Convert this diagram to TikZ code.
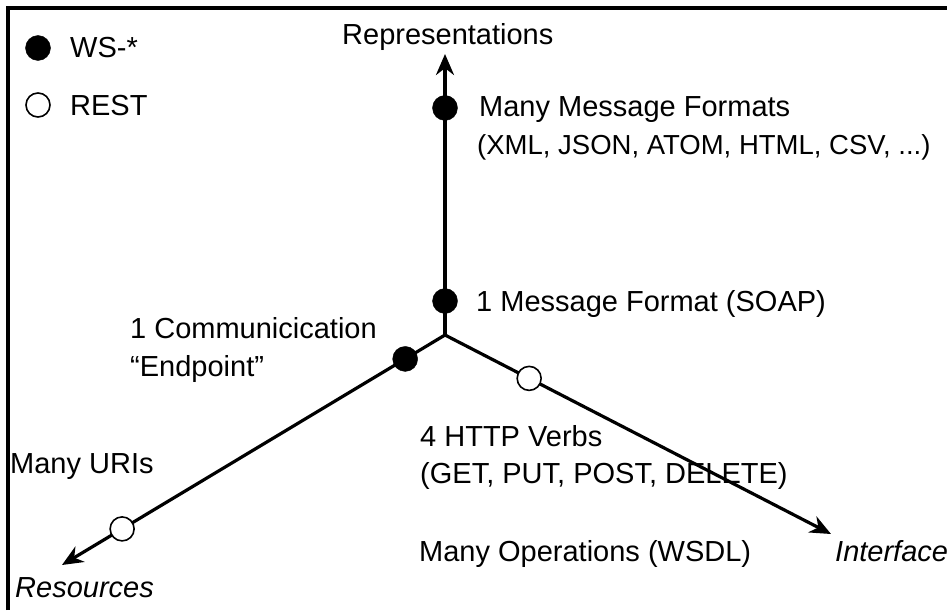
\documentclass[tikz,border=0pt]{standalone}
\usepackage{fontspec}
\setmainfont{Liberation Sans}
\usetikzlibrary{arrows.meta}

\tikzset{
  ws/.style={circle,draw,fill=black,inner sep=0pt,minimum size=25pt},
  rest/.style={circle,draw,line width=1.6pt,fill=white,inner sep=0pt,minimum size=24pt},
  lbl/.style={anchor=base west,inner sep=0pt,font=\fontsize{29}{34}\selectfont},
  ax/.style={line width=3.2pt,-{Stealth[length=21pt,width=18pt]}}
}

\begin{document}
\begin{tikzpicture}[x=1pt,y=-1pt]
\useasboundingbox(0,0)rectangle(947,610);
\draw[line width=3.5pt](8,610)|-(947,8);
% legend
\node[ws](wsdot) at (38,48){};
\node[rest](restdot) at (38,105){};
\node[lbl](wstxt) at (70,58){WS-*};
\node[lbl](resttxt) at (70,115){REST};
% the three axes
\coordinate(o) at (445,335);
\coordinate(rep) at (445,54);
\coordinate(res) at (62,565);
\coordinate(int) at (831,534);
\draw[ax](o)--(rep);
\draw[ax](o)--(res);
\draw[ax](o)--(int);
\path(o)--(rep)node[ws,pos=.808](many){}node[ws,pos=.121](soap){};
\path(o)--(res)node[ws,pos=.104](endp){}node[rest,pos=.843](uris){};
\path(o)--(int)node[rest,pos=.218](verbs){};
% axis names
\node[lbl](reptxt) at (342,45){Representations};
\node[lbl](restxt) at (15,597){\itshape Resources};
\node[lbl](inttxt) at (835,561){\itshape Interface};
% labels
\node[lbl](manytxt) at (479,116){Many Message Formats};
\node[lbl,font=\fontsize{27.5}{34}\selectfont](fmttxt) at (477,154){(XML, JSON, ATOM, HTML, CSV, ...)};
\node[lbl](soaptxt) at (476,311){1 Message Format (SOAP)};
\node[lbl](endptxt) at (130,338){1 Communicication};
\node[lbl](endptxt2) at (130,376){“Endpoint”};
\node[lbl](verbtxt) at (420,446){4 HTTP Verbs};
\node[lbl](verbtxt2) at (420,483){(GET, PUT, POST, DELETE)};
\node[lbl](uritxt) at (10,473){Many URIs};
\node[lbl](optxt) at (419,561){Many Operations (WSDL)};
\end{tikzpicture}
\end{document}
